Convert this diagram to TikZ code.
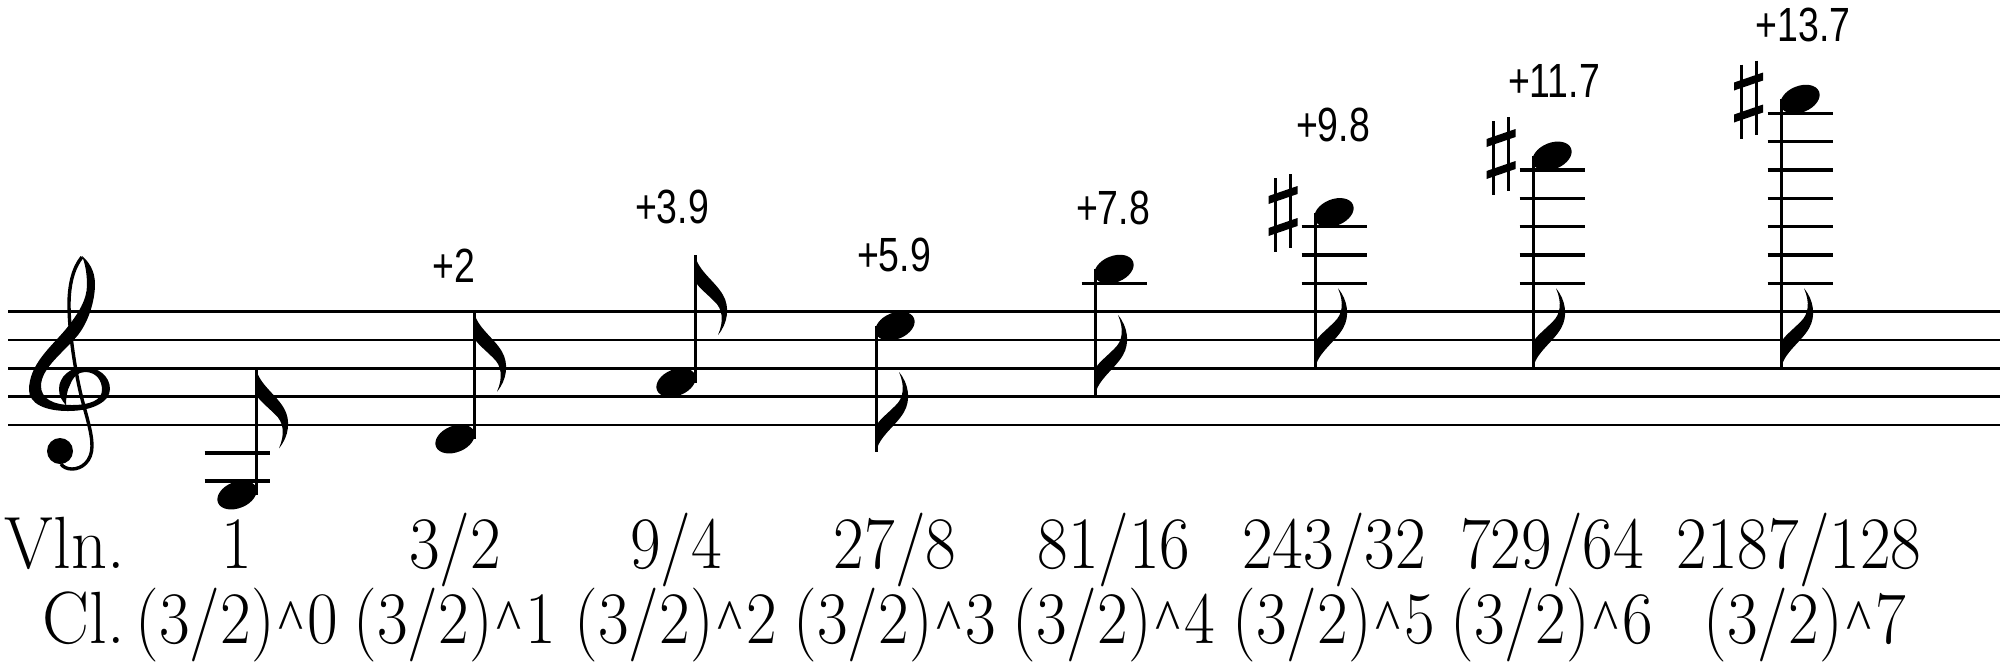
\documentclass[tikz,border=0pt]{standalone}
\usepackage{fontspec}
\usepackage{graphicx}
\newfontfamily\labfont{Liberation Sans}
\newfontfamily\caretfont{Liberation Serif}
\tikzset{
  staffline/.style={line width=1.4pt},
  stemline/.style={line width=1.5pt},
  ledgerline/.style={line width=1.6pt},
  cents/.style={font=\labfont\fontsize{24}{28}\selectfont, inner sep=0pt, anchor=center},
  ratio/.style={font=\fontsize{37}{44}\selectfont, inner sep=0pt, anchor=base},
}
\newcommand\nhead[2]{\fill[rotate around={22:(#1,#2)}] (#1,#2) ellipse (20.5 and 13.2);}
\newcommand\flagshape{(0,0) .. controls (3,16) and (20,26) .. (28,40) .. controls (35,52) and (33,68) .. (23,80) .. controls (29,66) and (28,54) .. (19,46) .. controls (11,38) and (3,32) .. (0,26) -- cycle}
\newcommand\flagup[2]{\fill[shift={(#1,#2)}] \flagshape;}
\newcommand\flagdown[2]{\fill[shift={(#1,#2)},yscale=-1] \flagshape;}
\newcommand\ledger[2]{\draw[ledgerline] ({#1-32.5},#2) -- ({#1+32.5},#2);}
\newcommand\mysharp[2]{%
  \begin{scope}[shift={(#1,#2)}]
    \draw[line width=1.5pt] (-7.5,-35) -- (-7.5,39);
    \draw[line width=1.5pt] (7.5,-39) -- (7.5,35);
    \fill (-14.5,-17) -- (14.5,-27) -- (14.5,-19) -- (-14.5,-9) -- cycle;
    \fill (-14.5,15) -- (14.5,5) -- (14.5,13) -- (-14.5,23) -- cycle;
  \end{scope}}
\newcommand\crt{\kern0.06em\raisebox{0.04em}{\caretfont\scalebox{0.8}{\textasciicircum}}\kern0.06em}
\newcommand\tx[1]{\scalebox{0.9}[1]{#1}}
\begin{document}
\begin{tikzpicture}[x=0.5pt,y=-0.5pt]
\useasboundingbox (0,0) rectangle (2000,661);
% staff
\foreach \yy in {311.7,340,368.3,396.7,425} \draw[staffline] (8,\yy) -- (2000,\yy);
% treble clef
\fill (82,256) .. controls (85,263) and (87,273) .. (87,285)
  .. controls (87,300) and (78,314) .. (66,329)
  .. controls (52,346) and (29,364) .. (29,390)
  .. controls (29,404) and (46,411) .. (68,411)
  .. controls (92,411) and (110,402) .. (110,389)
  .. controls (110,376) and (98,367) .. (84,367)
  .. controls (70,367) and (59,377) .. (59,389)
  .. controls (59,396) and (62,401) .. (66,405)
  .. controls (66,398) and (67,390) .. (70,385)
  .. controls (73,377) and (78,372) .. (85,372)
  .. controls (96,372) and (102,380) .. (102,390)
  .. controls (102,400) and (90,405) .. (72,405)
  .. controls (52,405) and (41,398) .. (41,386)
  .. controls (41,368) and (64,352) .. (78,335)
  .. controls (89,321) and (95,300) .. (95,284)
  .. controls (95,270) and (88,261) .. (82,256) -- cycle;
\draw[line width=1.7pt] (82,257) .. controls (73,268) and (69,285) .. (69,305)
  .. controls (69,330) and (75,370) .. (81,395)
  .. controls (86,415) and (92,432) .. (92,446)
  .. controls (92,461) and (82,469) .. (72,469)
  .. controls (67,469) and (63,467) .. (61,464);
\fill (60,451) circle (13);
% note 1: G3
\ledger{237}{453}\ledger{237}{481}
\nhead{237}{495}
\draw[stemline] (256,495) -- (256,368.3);
\flagup{256}{368.3}
% note 2: D4
\nhead{455}{439}
\draw[stemline] (474,439) -- (474,311.7);
\flagup{474}{311.7}
% note 3: A4
\nhead{676}{382.5}
\draw[stemline] (695,382.5) -- (695,255);
\flagup{695}{255}
% note 4: E5
\nhead{895}{326}
\draw[stemline] (876,326) -- (876,452);
\flagdown{876}{452}
% note 5: B5
\ledger{1114}{283.3}
\nhead{1114}{269.2}
\draw[stemline] (1095,269) -- (1095,395);
\flagdown{1095}{395}
% note 6: F#6
\foreach \yy in {283.3,255,226.7} {\ledger{1334}{\yy}}
\nhead{1334}{212.5}
\draw[stemline] (1315,212.5) -- (1315,368.3);
\flagdown{1315}{368.3}
\mysharp{1283}{213}
% note 7: C#7
\foreach \yy in {283.3,255,226.7,198.3,170} {\ledger{1552}{\yy}}
\nhead{1552}{156}
\draw[stemline] (1533,156) -- (1533,368.3);
\flagdown{1533}{368.3}
\mysharp{1501}{156}
% note 8: G#7
\foreach \yy in {283.3,255,226.7,198.3,170,141.7,113.3} {\ledger{1800}{\yy}}
\nhead{1800}{99.2}
\draw[stemline] (1781,99.2) -- (1781,368.3);
\flagdown{1781}{368.3}
\mysharp{1748.5}{99.5}
% cent labels
\node[cents] (c2) at (454,266) {\scalebox{0.78}[1]{+2}};
\node[cents] (c3) at (672,207) {\scalebox{0.78}[1]{+3.9}};
\node[cents] (c4) at (894,255) {\scalebox{0.78}[1]{+5.9}};
\node[cents] (c5) at (1113,208) {\scalebox{0.78}[1]{+7.8}};
\node[cents] (c6) at (1333,125) {\scalebox{0.78}[1]{+9.8}};
\node[cents] (c7) at (1554,81) {\scalebox{0.78}[1]{+11.7}};
\node[cents] (c8) at (1803,25) {\scalebox{0.78}[1]{+13.7}};
% ratio rows
\node[ratio, anchor=base east] (vln) at (125,568) {\scalebox{0.95}[1]{Vln.}};
\node[ratio, anchor=base east] (cl) at (125,643) {\scalebox{0.95}[1]{Cl.}};
\node[ratio] (r1) at (237,568) {\tx{1}};
\node[ratio] (r2) at (455,568) {\tx{3/2}};
\node[ratio] (r3) at (676,568) {\tx{9/4}};
\node[ratio] (r4) at (895,568) {\tx{27/8}};
\node[ratio] (r5) at (1114,568) {\tx{81/16}};
\node[ratio] (r6) at (1334,568) {\tx{243/32}};
\node[ratio] (r7) at (1552,568) {\tx{729/64}};
\node[ratio] (r8) at (1799,568) {\tx{2187/128}};
\node[ratio] (p1) at (237,643) {\tx{(3/2)\crt 0}};
\node[ratio] (p2) at (455,643) {\tx{(3/2)\crt 1}};
\node[ratio] (p3) at (676,643) {\tx{(3/2)\crt 2}};
\node[ratio] (p4) at (895,643) {\tx{(3/2)\crt 3}};
\node[ratio] (p5) at (1114,643) {\tx{(3/2)\crt 4}};
\node[ratio] (p6) at (1334,643) {\tx{(3/2)\crt 5}};
\node[ratio] (p7) at (1552,643) {\tx{(3/2)\crt 6}};
\node[ratio] (p8) at (1805,643) {\tx{(3/2)\crt 7}};
\end{tikzpicture}
\end{document}
